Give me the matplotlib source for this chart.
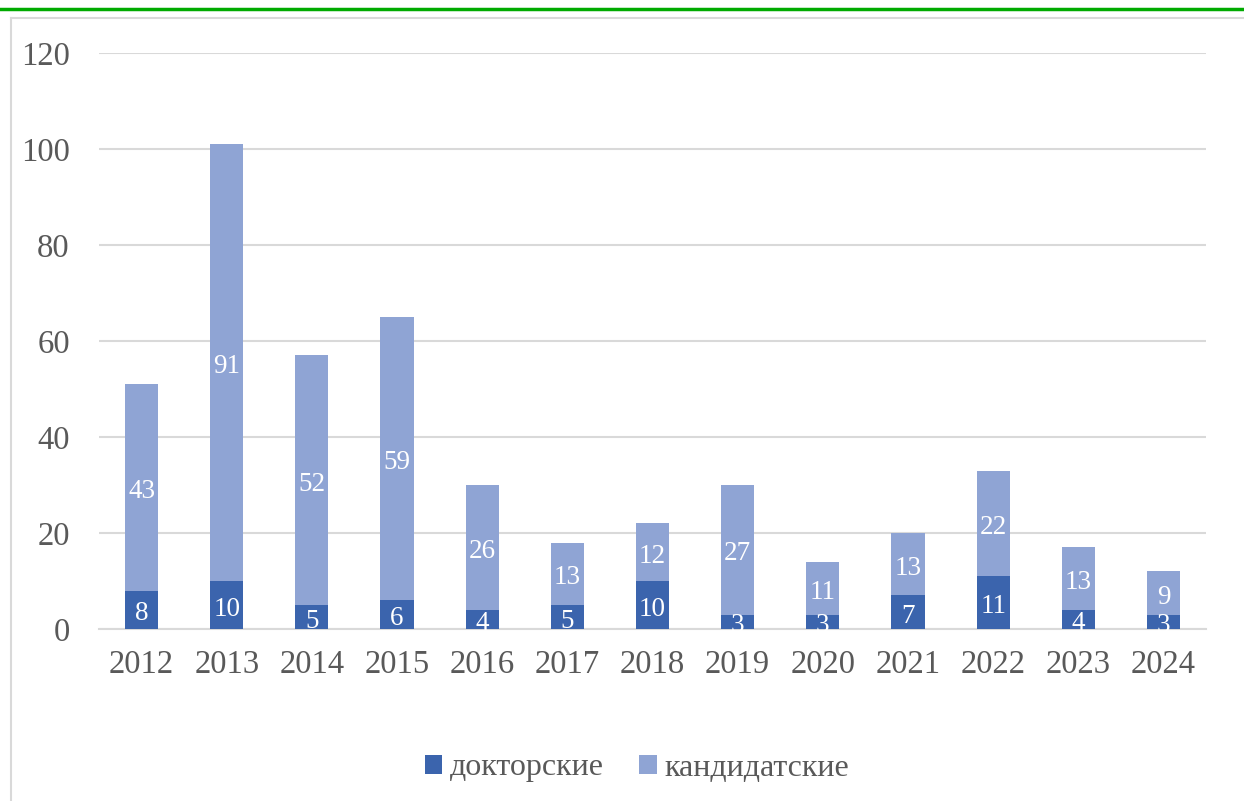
import matplotlib
matplotlib.use("Agg")
import matplotlib.pyplot as plt
from matplotlib.lines import Line2D

years = ["2012", "2013", "2014", "2015", "2016", "2017", "2018",
         "2019", "2020", "2021", "2022", "2023", "2024"]
doktor = [8, 10, 5, 6, 4, 5, 10, 3, 3, 7, 11, 4, 3]
kandidat = [43, 91, 52, 59, 26, 13, 12, 27, 11, 13, 22, 13, 9]

DARK = "#3b64ad"
LIGHT = "#8fa4d4"
GRID = "#d9d9d9"
TXT = "#595959"

plt.rcParams["font.family"] = ["Liberation Serif", "DejaVu Serif"]

fig = plt.figure(figsize=(12.44, 8.01), dpi=100)
ax = fig.add_axes([99 / 1244, 1 - 629 / 801, 1107 / 1244, 576 / 801])

x = range(len(years))
b1 = ax.bar(x, doktor, width=0.39, color=DARK, label="докторские", zorder=3)
b2 = ax.bar(x, kandidat, width=0.39, bottom=doktor, color=LIGHT,
            label="кандидатские", zorder=3)
for b in (b1, b2):
    labs = ax.bar_label(b, label_type="center", color="white", fontsize=19.5)
    for t in labs:
        t.set_y(-3)

ax.set_xlim(-0.5, len(years) - 0.5)
ax.set_ylim(0, 120)
ax.set_yticks(range(0, 121, 20))
ax.set_xticks(list(x))
ax.set_xticklabels(years)
ax.grid(axis="y", color=GRID, linewidth=1.5, zorder=0)
for s in ["top", "right", "left"]:
    ax.spines[s].set_visible(False)
ax.spines["bottom"].set_color(GRID)
ax.spines["bottom"].set_linewidth(1.5)
ax.tick_params(axis="both", length=0, labelsize=23.5, colors=TXT)
ax.tick_params(axis="y", pad=21)
ax.tick_params(axis="x", pad=15)

fig.legend(loc="center", bbox_to_anchor=(637 / 1244, 1 - 768 / 801),
           ncol=2, frameon=False, fontsize=23, labelcolor=TXT,
           handlelength=0.55, handleheight=0.55, handletextpad=0.25,
           columnspacing=1.1)

# frame of the chart area and green rule at top
fig.add_artist(Line2D([11 / 1244, 11 / 1244], [0, 1 - 18 / 801],
                      transform=fig.transFigure, color=GRID, linewidth=1.5))
fig.add_artist(Line2D([11 / 1244, 1], [1 - 18 / 801, 1 - 18 / 801],
                      transform=fig.transFigure, color=GRID, linewidth=1.5))
fig.add_artist(Line2D([0, 1], [1 - 9 / 801, 1 - 9 / 801],
                      transform=fig.transFigure, color="#00aa00", linewidth=2.5))

fig.savefig("out.png", dpi=100)
